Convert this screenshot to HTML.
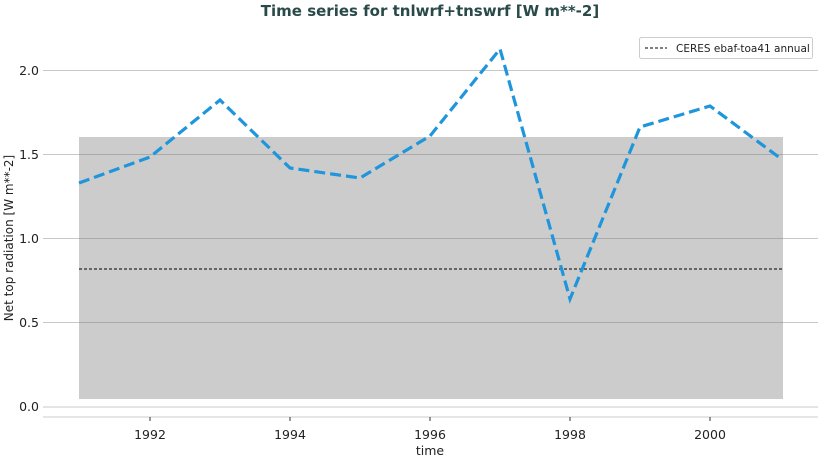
<!DOCTYPE html>
<html><head><meta charset="utf-8"><style>body{margin:0;background:#fff}svg{display:block}</style></head><body>
<svg width="820" height="457" xmlns="http://www.w3.org/2000/svg" font-family="'DejaVu Sans','Liberation Sans',sans-serif">
<text x="430" y="16" text-anchor="middle" font-size="15" font-weight="bold" fill="#2a4a4a">Time series for tnlwrf+tnswrf [W m**-2]</text>
<g stroke="#c8c8c8" stroke-width="1">
<line x1="43" x2="818" y1="407" y2="407"/><line x1="43" x2="818" y1="322.5" y2="322.5"/>
<line x1="43" x2="818" y1="238.5" y2="238.5"/><line x1="43" x2="818" y1="154.5" y2="154.5"/>
<line x1="43" x2="818" y1="70.5" y2="70.5"/>
</g>
<line x1="43" x2="818" y1="417" y2="417" stroke="#ccc"/>
<rect x="79" y="137" width="704" height="262" fill="#cccccc"/>
<g stroke="#aaa" stroke-width="1"><line x1="79" x2="783" y1="322.5" y2="322.5"/><line x1="79" x2="783" y1="238.5" y2="238.5"/><line x1="79" x2="783" y1="154.5" y2="154.5"/></g>
<line x1="79" x2="783" y1="269" y2="269" stroke="#000" stroke-width="1" stroke-dasharray="3,2"/>
<polyline fill="none" stroke="#1f96dc" stroke-width="3.2" stroke-dasharray="11,5" points="79,183 150,157 220,100 290,168 360,178 430,136 500,49 570,299 640,127 710,106 780,158"/>
<g stroke="#333"><line x1="150" x2="150" y1="417" y2="421"/><line x1="290" x2="290" y1="417" y2="421"/><line x1="430" x2="430" y1="417" y2="421"/><line x1="570" x2="570" y1="417" y2="421"/><line x1="710" x2="710" y1="417" y2="421"/></g>
<g font-size="12.5" fill="#222" text-anchor="middle">
<text x="150" y="439">1992</text><text x="290" y="439">1994</text><text x="430" y="439">1996</text><text x="570" y="439">1998</text><text x="710" y="439">2000</text>
<text x="430" y="455">time</text>
</g>
<g font-size="12.5" fill="#222" text-anchor="end">
<text x="39" y="411">0.0</text><text x="39" y="327">0.5</text><text x="39" y="243">1.0</text><text x="39" y="159">1.5</text><text x="39" y="75">2.0</text>
</g>
<text transform="translate(13,238) rotate(-90)" font-size="12" fill="#222" text-anchor="middle">Net top radiation [W m**-2]</text>
<rect x="639.5" y="37.5" width="173" height="21" fill="#fff" stroke="#ccc" rx="2"/>
<line x1="645" x2="667" y1="48" y2="48" stroke="#000" stroke-dasharray="3,2"/>
<text x="676" y="52" font-size="10.5" fill="#222">CERES ebaf-toa41 annual</text>
</svg>
</body></html>
